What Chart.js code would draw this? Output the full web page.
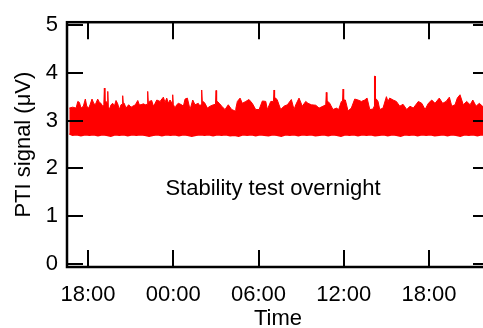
<!DOCTYPE html>
<html>
<head>
<meta charset="utf-8">
<script src="https://cdn.jsdelivr.net/npm/chart.js@4.4.1/dist/chart.umd.min.js"></script>
<style>
  html, body { margin: 0; padding: 0; background: #fff; overflow: hidden; }
</style>
</head>
<body>
<canvas id="myChart" width="489" height="328"></canvas>
<script>
// time in hours from midnight of the first day (24 = 00:00 next day)
const upperEdge = [
  [16.68, 3.26], [16.92, 3.28], [17.16, 3.26], [17.28, 3.40], [17.39, 3.38], [17.51, 3.26], [17.67, 3.30],
  [17.81, 3.45], [17.91, 3.30], [18.05, 3.26], [18.14, 3.33], [18.28, 3.45], [18.40, 3.36], [18.51, 3.33],
  [18.68, 3.45], [18.80, 3.38], [18.91, 3.36], [19.03, 3.30], [19.11, 3.33], [19.15, 3.68], [19.19, 3.40],
  [19.25, 3.40], [19.35, 3.38], [19.39, 3.61], [19.43, 3.30], [19.50, 3.23], [19.62, 3.33], [19.74, 3.36],
  [19.85, 3.30], [19.97, 3.42], [20.09, 3.35], [20.20, 3.23], [20.32, 3.33], [20.41, 3.34], [20.44, 3.52],
  [20.48, 3.36], [20.55, 3.36], [20.67, 3.26], [20.86, 3.33], [21.03, 3.28], [21.15, 3.30], [21.33, 3.33],
  [21.50, 3.42], [21.61, 3.33], [21.73, 3.33], [21.89, 3.35], [22.03, 3.33], [22.16, 3.34], [22.20, 3.61],
  [22.24, 3.38], [22.31, 3.40], [22.48, 3.42], [22.60, 3.30], [22.72, 3.36], [22.84, 3.43], [23.07, 3.40],
  [23.30, 3.49], [23.42, 3.38], [23.54, 3.47], [23.65, 3.36], [23.77, 3.43], [23.92, 3.36], [23.96, 3.54],
  [24.00, 3.34], [24.12, 3.26], [24.24, 3.33], [24.36, 3.36], [24.59, 3.33], [24.71, 3.30], [24.83, 3.45],
  [24.99, 3.47], [25.18, 3.23], [25.37, 3.43], [25.53, 3.33], [25.76, 3.36], [25.88, 3.30], [25.96, 3.34],
  [26.00, 3.64], [26.04, 3.40], [26.11, 3.40], [26.23, 3.36], [26.40, 3.26], [26.59, 3.30], [26.82, 3.33],
  [26.97, 3.34], [27.01, 3.63], [27.05, 3.38], [27.10, 3.40], [27.24, 3.36], [27.41, 3.30], [27.64, 3.23],
  [27.87, 3.33], [28.11, 3.23], [28.35, 3.20], [28.40, 3.25], [28.51, 3.40], [28.70, 3.47], [28.86, 3.36],
  [29.10, 3.40], [29.33, 3.44], [29.56, 3.36], [29.80, 3.23], [30.04, 3.23], [30.27, 3.41], [30.51, 3.40],
  [30.62, 3.23], [30.86, 3.40], [31.05, 3.40], [31.09, 3.64], [31.13, 3.47], [31.21, 3.47], [31.32, 3.43],
  [31.56, 3.23], [31.79, 3.30], [32.03, 3.33], [32.31, 3.44], [32.50, 3.23], [32.62, 3.33], [32.85, 3.47],
  [33.08, 3.30], [33.32, 3.40], [33.48, 3.36], [33.72, 3.33], [34.03, 3.32], [34.26, 3.26], [34.54, 3.30],
  [34.73, 3.33], [34.77, 3.59], [34.81, 3.40], [34.89, 3.40], [35.01, 3.36], [35.24, 3.23], [35.48, 3.26],
  [35.64, 3.23], [35.83, 3.40], [35.91, 3.40], [35.95, 3.66], [35.99, 3.43], [36.11, 3.43], [36.30, 3.20],
  [36.53, 3.26], [36.77, 3.45], [37.00, 3.43], [37.24, 3.40], [37.47, 3.43], [37.64, 3.47], [37.83, 3.23],
  [38.06, 3.24], [38.14, 3.30], [38.16, 3.93], [38.20, 3.93], [38.23, 3.45], [38.29, 3.45], [38.41, 3.40],
  [38.53, 3.23], [38.76, 3.26], [39.00, 3.50], [39.11, 3.40], [39.23, 3.47], [39.47, 3.43], [39.70, 3.40],
  [39.94, 3.30], [40.17, 3.34], [40.43, 3.23], [40.66, 3.30], [40.89, 3.26], [41.25, 3.40], [41.49, 3.36],
  [41.72, 3.23], [41.95, 3.36], [42.19, 3.43], [42.42, 3.36], [42.72, 3.47], [42.96, 3.36], [43.20, 3.40],
  [43.43, 3.49], [43.60, 3.30], [43.83, 3.33], [43.99, 3.47], [44.18, 3.54], [44.41, 3.33], [44.65, 3.40],
  [44.89, 3.33], [45.08, 3.43], [45.31, 3.30], [45.54, 3.36], [45.76, 3.30], [46.22, 3.32]
];

const lowerEdge = [
  [16.68, 2.72], [16.9, 2.69], [17.2, 2.70], [17.5, 2.68], [17.8, 2.70], [18.1, 2.69], [18.4, 2.70],
  [18.7, 2.68], [19.0, 2.70], [19.3, 2.69], [19.6, 2.67], [19.9, 2.70], [20.2, 2.69], [20.5, 2.70],
  [20.8, 2.68], [21.1, 2.70], [21.4, 2.69], [21.7, 2.70], [22.0, 2.69], [22.3, 2.67], [22.6, 2.69],
  [22.9, 2.70], [23.2, 2.68], [23.5, 2.70], [23.8, 2.69], [24.1, 2.70], [24.4, 2.68], [24.7, 2.70],
  [25.0, 2.69], [25.3, 2.67], [25.6, 2.69], [25.9, 2.70], [26.2, 2.69], [26.5, 2.70], [26.8, 2.68],
  [27.1, 2.70], [27.4, 2.69], [27.7, 2.70], [28.0, 2.68], [28.3, 2.69], [28.6, 2.67], [28.9, 2.70],
  [29.2, 2.69], [29.5, 2.70], [29.8, 2.68], [30.1, 2.70], [30.4, 2.69], [30.7, 2.68], [31.0, 2.70],
  [31.3, 2.69], [31.6, 2.67], [31.9, 2.70], [32.2, 2.69], [32.5, 2.70], [32.8, 2.68], [33.1, 2.70],
  [33.4, 2.69], [33.7, 2.70], [34.0, 2.68], [34.3, 2.69], [34.6, 2.70], [34.9, 2.68], [35.2, 2.70],
  [35.5, 2.69], [35.8, 2.67], [36.1, 2.70], [36.4, 2.69], [36.7, 2.70], [37.0, 2.68], [37.3, 2.70],
  [37.6, 2.69], [37.9, 2.70], [38.2, 2.68], [38.5, 2.69], [38.8, 2.70], [39.1, 2.68], [39.4, 2.70],
  [39.7, 2.69], [40.0, 2.67], [40.3, 2.70], [40.6, 2.69], [40.9, 2.70], [41.2, 2.68], [41.5, 2.70],
  [41.8, 2.69], [42.1, 2.70], [42.4, 2.68], [42.7, 2.69], [43.0, 2.70], [43.3, 2.68], [43.6, 2.70],
  [43.9, 2.69], [44.2, 2.67], [44.5, 2.70], [44.8, 2.69], [45.1, 2.70], [45.4, 2.68], [45.7, 2.70],
  [46.0, 2.69], [46.22, 2.69]
];

const xTickValues = [18, 24, 30, 36, 42];
const xTickLabels = ['18:00', '00:00', '06:00', '12:00', '18:00'];
const yTickValues = [0, 1, 2, 3, 4, 5];
const noteText = 'Stability test overnight';

const FONT = "'Liberation Sans', Arial, sans-serif";
const RED = '#ff0000';

// frame with inward ticks on all four sides
const framePlugin = {
  id: 'frame',
  afterDraw(chart) {
    const ctx = chart.ctx;
    const a = chart.chartArea;
    const xs = chart.scales.x, ys = chart.scales.y;
    ctx.save();
    ctx.strokeStyle = '#000';
    ctx.lineWidth = 2.5;
    ctx.strokeRect(a.left, a.top, a.right - a.left, a.bottom - a.top);
    ctx.lineWidth = 2;
    ctx.beginPath();
    xTickValues.forEach(v => {
      const px = Math.round(xs.getPixelForValue(v));
      ctx.moveTo(px, a.bottom); ctx.lineTo(px, a.bottom - 17);
      ctx.moveTo(px, a.top); ctx.lineTo(px, a.top + 17);
    });
    yTickValues.forEach(v => {
      const py = Math.round(ys.getPixelForValue(v));
      ctx.moveTo(a.left, py); ctx.lineTo(a.left + 16, py);
      ctx.moveTo(a.right, py); ctx.lineTo(a.right - 16, py);
    });
    ctx.stroke();

    ctx.fillStyle = '#000';
    ctx.font = '22px ' + FONT;
    ctx.textAlign = 'center';
    ctx.textBaseline = 'middle';
    ctx.fillText(noteText, xs.getPixelForValue(31.02), ys.getPixelForValue(1.57));
    ctx.restore();
  }
};

const ctx = document.getElementById('myChart').getContext('2d');
new Chart(ctx, {
  type: 'line',
  data: {
    datasets: [
      {
        data: upperEdge.map(p => ({ x: p[0], y: p[1] })),
        borderColor: RED,
        backgroundColor: RED,
        borderWidth: 1,
        pointRadius: 0,
        tension: 0,
        fill: '+1'
      },
      {
        data: lowerEdge.map(p => ({ x: p[0], y: p[1] })),
        borderColor: RED,
        borderWidth: 1.5,
        pointRadius: 0,
        tension: 0,
        fill: false
      }
    ]
  },
  plugins: [framePlugin],
  options: {
    responsive: false,
    animation: false,
    events: [],
    layout: { padding: { top: 20, right: 0, left: 0, bottom: 0 } },
    plugins: {
      legend: { display: false },
      tooltip: { enabled: false }
    },
    scales: {
      x: {
        type: 'linear',
        min: 16.52,
        max: 46.22,
        grid: { display: false, drawTicks: false },
        border: { display: false },
        afterBuildTicks: s => { s.ticks = xTickValues.map(v => ({ value: v })); },
        afterFit: s => { s.height = 61; },
        ticks: {
          color: '#000',
          padding: 15,
          maxRotation: 0,
          font: { family: FONT, size: 22 },
          callback: v => xTickLabels[xTickValues.indexOf(v)]
        },
        title: {
          display: true,
          text: 'Time',
          color: '#000',
          padding: 0,
          font: { family: FONT, size: 22, lineHeight: 0.8 }
        }
      },
      y: {
        min: -0.073,
        max: 5.062,
        grid: { display: false, drawTicks: false },
        border: { display: false },
        afterBuildTicks: s => { s.ticks = yTickValues.map(v => ({ value: v })); },
        afterFit: s => { s.width = 67; },
        ticks: {
          color: '#000',
          padding: 9,
          font: { family: FONT, size: 22 }
        },
        title: {
          display: true,
          text: 'PTI signal (μV)',
          color: '#000',
          padding: { top: 12.5, bottom: 0 },
          font: { family: FONT, size: 22, lineHeight: 1 }
        }
      }
    }
  }
});
</script>
</body>
</html>
